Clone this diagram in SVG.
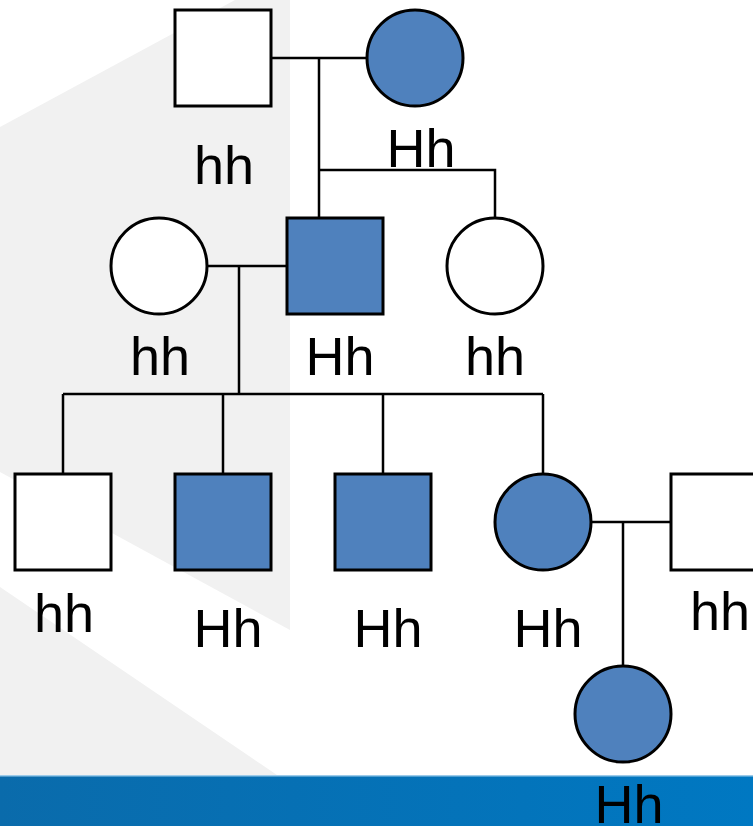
<svg xmlns="http://www.w3.org/2000/svg" width="753" height="826" viewBox="0 0 753 826">
<defs>
<style>
.m{fill:#fff;stroke:#000;stroke-width:3}
.a{fill:#4f81bd;stroke:#000;stroke-width:3}
.c{fill:none;stroke:#000;stroke-width:2.5}
.t{font-family:"Liberation Sans",Arial,sans-serif;font-size:54px;fill:#000;text-anchor:middle}
</style>
<linearGradient id="bar" x1="0" y1="0" x2="1" y2="0">
<stop offset="0" stop-color="#0a6bab"/>
<stop offset="1" stop-color="#0078c2"/>
</linearGradient>
</defs>
<g id="background">
<rect x="0" y="0" width="753" height="826" fill="#fff"/>
<polygon points="0,127 235,0 290,0 290,630 0,472" fill="#f1f1f1"/>
<polygon points="0,587 277,775 0,775" fill="#f1f1f1"/>
<rect x="0" y="775" width="753" height="51" fill="url(#bar)"/>
<rect x="0" y="775" width="753" height="1.5" fill="#9ccbea"/>
</g>
<g id="connectors">
<path class="c" d="M271,58H367M319,58V217M319,170H495V217"/>
<path class="c" d="M207,266H287M239,266V394M63,394H543M63,394V474M223,394V474M383,394V474M543,394V474"/>
<path class="c" d="M591,522H671M623,522V666"/>
</g>
<g id="gen1-father"><rect class="m" x="175" y="10" width="96" height="96"/><text class="t" x="224" y="184">hh</text></g>
<g id="gen1-mother"><circle class="a" cx="415" cy="58" r="48"/><text class="t" x="421" y="167">Hh</text></g>
<g id="gen2-wife"><circle class="m" cx="159" cy="266" r="48"/><text class="t" x="160" y="375">hh</text></g>
<g id="gen2-son"><rect class="a" x="287" y="218" width="96" height="96"/><text class="t" x="340" y="375">Hh</text></g>
<g id="gen2-daughter"><circle class="m" cx="495" cy="266" r="48"/><text class="t" x="495" y="375">hh</text></g>
<g id="gen3-son1"><rect class="m" x="15" y="474" width="96" height="96"/><text class="t" x="64" y="632">hh</text></g>
<g id="gen3-son2"><rect class="a" x="175" y="474" width="96" height="96"/><text class="t" x="228" y="647">Hh</text></g>
<g id="gen3-son3"><rect class="a" x="335" y="474" width="96" height="96"/><text class="t" x="388" y="647">Hh</text></g>
<g id="gen3-daughter"><circle class="a" cx="543" cy="522" r="48"/><text class="t" x="548" y="647">Hh</text></g>
<g id="gen3-husband"><rect class="m" x="671" y="474" width="96" height="96"/><text class="t" x="720" y="630">hh</text></g>
<g id="gen4-daughter"><circle class="a" cx="623" cy="714" r="48"/><text class="t" x="629" y="823">Hh</text></g>
</svg>
